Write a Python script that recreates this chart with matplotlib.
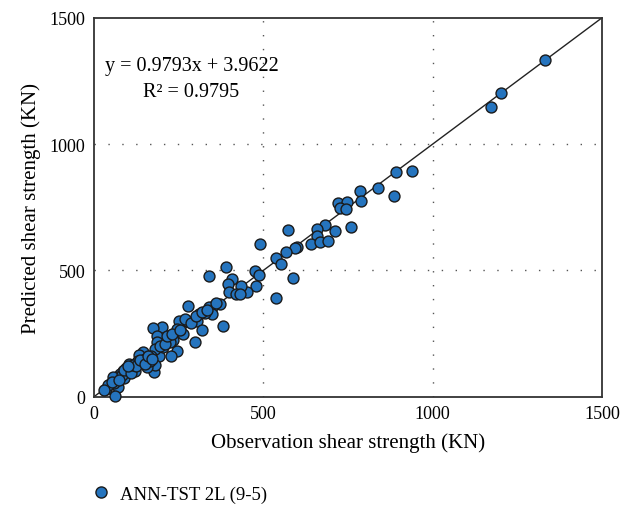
import matplotlib
matplotlib.use("Agg")
import matplotlib.pyplot as plt
from matplotlib.lines import Line2D

plt.rcParams['font.family'] = ['Liberation Serif', 'DejaVu Serif']

# Observation (x) and predicted (y) shear strength, KN
obs = [1330, 1201, 1173, 892, 938, 886, 838, 785, 788, 720, 748, 725, 744, 760,
       711, 683, 658, 659, 640, 668, 690, 572, 598, 592, 567, 537, 553, 587, 538,
       491, 391, 340, 474, 486, 479, 452, 434, 406, 395, 400, 418, 430, 371, 349,
       339, 349, 327, 310, 303, 277, 382, 318, 297, 274, 251, 268, 264, 246, 232,
       246, 226, 224, 201, 173, 187, 185, 193, 205, 180, 167, 178, 180, 157, 165,
       146, 134, 126, 116, 104, 98, 87, 89, 77, 67, 57, 47, 35, 72, 62, 106, 121,
       141, 112, 95, 130, 150, 60, 82, 40, 52,
       75, 90, 110, 115, 125, 135, 150, 160, 170, 195, 210, 215, 230, 255, 285,
       300, 320, 335, 360, 30, 100]
pred = [1332, 1203, 1148, 891, 893, 794, 827, 814, 774, 765, 770, 747, 744, 673,
        654, 681, 665, 636, 605, 612, 615, 659, 592, 589, 572, 550, 527, 469, 391,
        604, 515, 477, 496, 480, 440, 414, 440, 464, 445, 414, 407, 406, 366, 357,
        354, 328, 330, 326, 301, 361, 281, 266, 215, 301, 299, 308, 248, 268, 225,
        182, 163, 215, 275, 272, 242, 215, 163, 196, 189, 163, 96, 126, 119, 143,
        176, 167, 136, 116, 130, 110, 103, 73, 90, 77, 77, 50, 30, 37, 1, 96, 103,
        136, 120, 115, 140, 150, 55, 85, 45, 60,
        65, 105, 95, 125, 120, 145, 130, 160, 150, 200, 210, 240, 250, 265, 290,
        320, 335, 345, 370, 25, 120]

xticks = [0, 500, 1000, 1500]
yticks = [0, 500, 1000, 1500]
series_label = "ANN-TST 2L (9-5)"
eq_text = "y = 0.9793x + 3.9622"
r2_text = "R\u00b2 = 0.9795"

fig = plt.figure(figsize=(6.22, 5.06), dpi=100)
ax = fig.add_axes([0.1511, 0.214, 0.8169, 0.749])

ax.set_xlim(0, 1500)
ax.set_ylim(0, 1500)
ax.set_xticks(xticks)
ax.set_yticks(yticks)
ax.tick_params(length=0, labelsize=13, pad=6)

for v in [500, 1000]:
    ax.axvline(v, color='#555555', lw=1.0, ls=(0, (1, 9)), zorder=0)
    ax.axhline(v, color='#555555', lw=1.0, ls=(0, (1, 9)), zorder=0)

ax.plot([0, 1500], [0, 1500], color='#222222', lw=1.0, zorder=1)
ax.scatter(obs, pred, s=62, color='#2574be', edgecolor='#1a1a1a',
           linewidth=1.0, zorder=3, clip_on=False)

for sp in ax.spines.values():
    sp.set_linewidth(1.3)
    sp.set_color('#333333')

ax.set_xlabel("Observation shear strength (KN)", fontsize=15, labelpad=7)
ax.set_ylabel("Predicted shear strength (KN)", fontsize=15, labelpad=6)

ax.text(0.022, 0.875, eq_text, transform=ax.transAxes, fontsize=14.5,
        ha='left', va='center')
ax.text(0.192, 0.805, r2_text, transform=ax.transAxes, fontsize=14.5,
        ha='center', va='center')

handle = Line2D([], [], marker='o', ls='none', markersize=8,
                markerfacecolor='#2574be', markeredgecolor='#1a1a1a',
                markeredgewidth=1.0)
fig.legend([handle], [series_label], loc='center left',
           bbox_to_anchor=(0.12, 0.022), frameon=False, fontsize=13.5,
           handletextpad=0.5, handlelength=1.0)

fig.savefig("out.png", dpi=100)
